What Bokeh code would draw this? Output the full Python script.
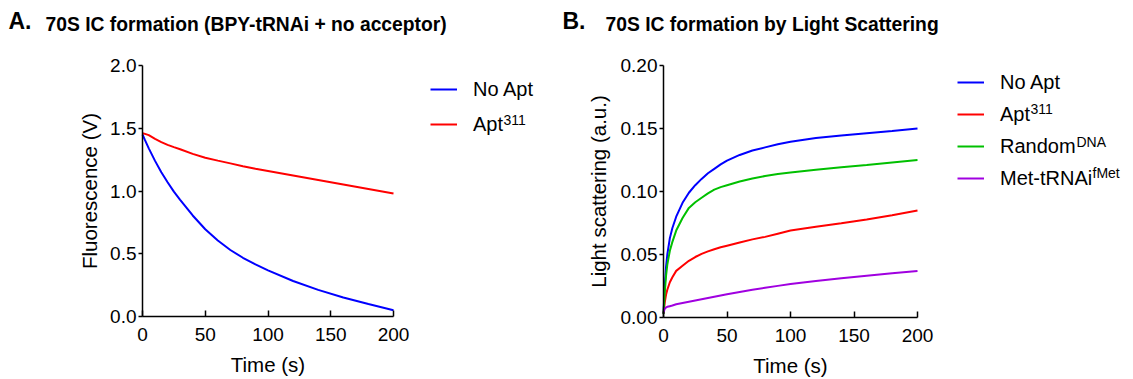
from bokeh.plotting import figure
from bokeh.layouts import row
from bokeh.models import (Label, Legend, LegendItem, Range1d, FixedTicker,
                          NumeralTickFormatter, LinearAxis, Grid)
from bokeh.embed import file_html
from bokeh.resources import INLINE

FONT = "Liberation Sans"

# ---------------- data: panel A (fluorescence) ----------------
time_a = [0, 2, 5, 10, 15, 20, 25, 30, 40, 50, 60, 70, 80, 90, 100,
          120, 140, 160, 180, 200]
no_apt_a = [1.45, 1.405, 1.34, 1.24, 1.15, 1.07, 0.995, 0.93, 0.805, 0.695,
            0.605, 0.53, 0.468, 0.415, 0.368, 0.283, 0.212, 0.151, 0.099, 0.05]
apt311_a = [1.46, 1.455, 1.445, 1.415, 1.39, 1.368, 1.35, 1.333, 1.296,
            1.265, 1.242, 1.220, 1.198, 1.178, 1.16, 1.124, 1.088, 1.052,
            1.016, 0.98]

# ---------------- data: panel B (light scattering) ----------------
time_b = [0, 1, 2, 3, 5, 7, 10, 15, 20, 25, 30, 35, 40, 45, 50, 60, 70,
          80, 90, 100, 120, 140, 160, 180, 200]
no_apt_b = [0.003, 0.025, 0.040, 0.050, 0.063, 0.071, 0.080, 0.091, 0.099,
            0.105, 0.110, 0.1145, 0.118, 0.1215, 0.1245, 0.129, 0.1325, 0.135,
            0.1375, 0.1395, 0.1425, 0.1445, 0.1463, 0.148, 0.150]
apt311_b = [0.003, 0.012, 0.018, 0.022, 0.028, 0.032, 0.037, 0.041, 0.045,
            0.048, 0.0505, 0.0525, 0.0542, 0.0557, 0.057, 0.0595, 0.062, 0.064,
            0.0665, 0.069, 0.072, 0.0748, 0.0778, 0.0812, 0.085]
random_dna_b = [0.003, 0.020, 0.033, 0.042, 0.053, 0.060, 0.069, 0.079,
                0.087, 0.0915, 0.095, 0.0985, 0.1015, 0.1035, 0.105, 0.108,
                0.1103, 0.1123, 0.1138, 0.115, 0.1172, 0.1192, 0.121, 0.123,
                0.125]
met_trna_b = [0.004, 0.007, 0.008, 0.0085, 0.009, 0.0095, 0.0105, 0.0115,
              0.0125, 0.0135, 0.0145, 0.0155, 0.0165, 0.0175, 0.0185, 0.0203,
              0.022, 0.0236, 0.0251, 0.0265, 0.029, 0.0312, 0.0332, 0.0352,
              0.037]

xticks = [0, 50, 100, 150, 200]
yticks_a = [0.0, 0.5, 1.0, 1.5, 2.0]
yticks_b = [0.0, 0.05, 0.10, 0.15, 0.20]

BLUE = "#0000FF"
RED = "#FF0000"
GREEN = "#00C000"
PURPLE = "#A000E0"

H = 379
BASE_SHIFT = 7  # correction for the renderer's baseline placement


def make_fig(width, fx0, fx1, fy_top, fy_bot, xmax, ymax):
    # plot area spans pixels fx0..fx1 (x) and fy_top..fy_bot (y from top)
    sx = (fx1 - fx0) / xmax
    sy = (fy_bot - fy_top) / ymax
    xr = Range1d(-fx0 / sx, xmax + (width - fx1) / sx)
    yr = Range1d(-(H - fy_bot) / sy, ymax + fy_top / sy)
    p = figure(width=width, height=H, output_backend="svg",
               toolbar_location=None, x_range=xr, y_range=yr,
               x_axis_location=None, y_axis_location=None,
               min_border_left=0, min_border_right=0, min_border_top=0,
               min_border_bottom=0)
    p.outline_line_color = None
    for r in list(p.center) + list(p.renderers):
        if isinstance(r, Grid):
            r.visible = False
    p.center = [r for r in p.center if not isinstance(r, Grid)]
    return p


def add_axes(p, xmax, ymax, yticks, yfmt, ylabel, ylab_standoff):
    xa = LinearAxis(fixed_location=0, bounds=(0, xmax),
                    ticker=FixedTicker(ticks=xticks), axis_label="Time (s)")
    ya = LinearAxis(fixed_location=0, bounds=(0, ymax),
                    ticker=FixedTicker(ticks=yticks),
                    formatter=NumeralTickFormatter(format=yfmt),
                    axis_label=ylabel)
    for ax in (xa, ya):
        ax.axis_line_color = "black"
        ax.axis_line_width = 1.5
        ax.major_tick_line_color = "black"
        ax.major_tick_line_width = 1.5
        ax.minor_tick_line_color = None
        ax.major_label_text_font = FONT
        ax.major_label_text_font_size = "19px"
        ax.major_label_text_color = "black"
        ax.axis_label_text_font = FONT
        ax.axis_label_text_font_size = "20.5px"
        ax.axis_label_text_font_style = "normal"
        ax.axis_label_text_color = "black"
    xa.major_tick_in = 6
    xa.major_tick_out = 0
    xa.major_label_standoff = 11
    xa.axis_label_standoff = 9
    ya.major_tick_in = 0
    ya.major_tick_out = 4
    ya.major_label_standoff = 2
    ya.axis_label_standoff = ylab_standoff
    p.add_layout(xa, "below")
    p.add_layout(ya, "left")


def make_legend(items, row1_center, x, spacing):
    item_h = 24
    n = len(items)
    bottom = row1_center - item_h / 2 + n * item_h + (n - 1) * spacing
    return Legend(items=items, location=(x, H - bottom),
                  orientation="vertical",
                  glyph_width=27, glyph_height=item_h, label_height=item_h,
                  spacing=spacing, padding=0, margin=0, label_standoff=16,
                  border_line_color=None, background_fill_alpha=0,
                  label_text_font=FONT, label_text_font_size="20px",
                  label_text_color="black")


def text(p, x, y_top, s, size, bold=False):
    # x from left edge, y_top = baseline position measured from top edge
    p.add_layout(Label(x=x, y=H - y_top + BASE_SHIFT, x_units="screen",
                       y_units="screen", text=s, text_font=FONT,
                       text_font_size=size,
                       text_font_style="bold" if bold else "normal",
                       text_color="black", text_baseline="alphabetic",
                       text_align="left"))


# ---------------- panel A ----------------
pa = make_fig(560, 142, 393, 65, 316, 200, 2.0)
ra1 = pa.line(time_a, no_apt_a, line_color=BLUE, line_width=2)
ra2 = pa.line(time_a, apt311_a, line_color=RED, line_width=2)
add_axes(pa, 200, 2.0, yticks_a, "0.0", "Fluorescence (V)", 6)
pa.add_layout(make_legend([LegendItem(label="No Apt", renderers=[ra1]),
                           LegendItem(label="Apt", renderers=[ra2])],
                          89, 430, 11))
text(pa, 503, 126, "311", "14px")
text(pa, 8, 27, "A.", "23px", bold=True)
text(pa, 45, 31, "70S IC formation (BPY-tRNAi + no acceptor)", "19.3px", bold=True)

# ---------------- panel B ----------------
pb = make_fig(573, 103, 357, 65, 317, 200, 0.20)
rb1 = pb.line(time_b, no_apt_b, line_color=BLUE, line_width=2)
rb2 = pb.line(time_b, apt311_b, line_color=RED, line_width=2)
rb3 = pb.line(time_b, random_dna_b, line_color=GREEN, line_width=2)
rb4 = pb.line(time_b, met_trna_b, line_color=PURPLE, line_width=2)
add_axes(pb, 200, 0.20, yticks_b, "0.00", "Light scattering (a.u.)", 8)
pb.add_layout(make_legend([LegendItem(label="No Apt", renderers=[rb1]),
                           LegendItem(label="Apt", renderers=[rb2]),
                           LegendItem(label="Random", renderers=[rb3]),
                           LegendItem(label="Met-tRNAi", renderers=[rb4])],
                          82, 397, 8))
text(pb, 470, 115, "311", "14px")
text(pb, 516, 148, "DNA", "14px")
text(pb, 532, 179, "fMet", "14px")
text(pb, 2, 27, "B.", "23px", bold=True)
text(pb, 45, 31, "70S IC formation by Light Scattering", "19.3px", bold=True)

layout = row(pa, pb)
open("out.html", "w").write(file_html(layout, INLINE))
